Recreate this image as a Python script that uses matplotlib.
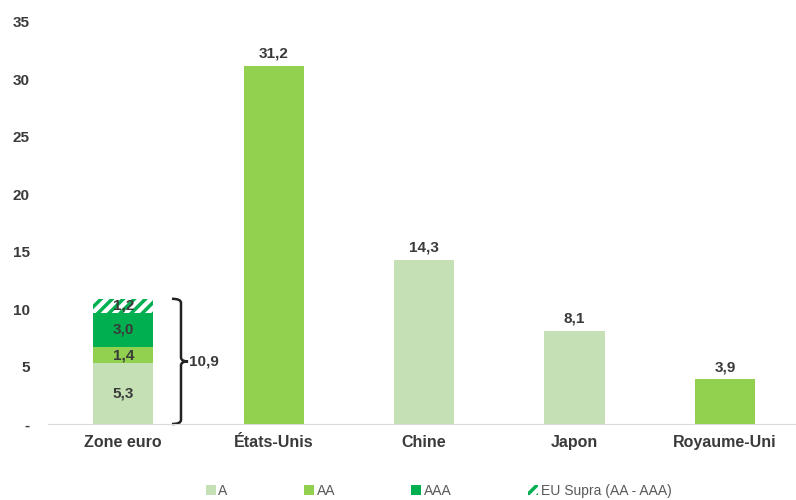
import matplotlib.pyplot as plt
from matplotlib.patches import Patch, PathPatch
from matplotlib.path import Path

plt.rcParams['font.family'] = ['Liberation Sans', 'DejaVu Sans']
plt.rcParams['hatch.linewidth'] = 2.5

categories = ['Zone euro', 'États-Unis', 'Chine', 'Japon', 'Royaume-Uni']
rating_a = [5.3, 0, 14.3, 8.1, 0]
rating_aa = [1.4, 31.2, 0, 0, 3.9]
rating_aaa = [3.0, 0, 0, 0, 0]
eu_supra = [1.2, 0, 0, 0, 0]
euro_total = 10.9
yticks = [0, 5, 10, 15, 20, 25, 30, 35]
ytick_labels = ['-', '5', '10', '15', '20', '25', '30', '35']

c_a = '#c5e0b4'
c_aa = '#92d050'
c_aaa = '#00b050'
txt = '#3a3a3a'

fig = plt.figure(figsize=(7.96, 5.0), dpi=100)
ax = fig.add_axes([0.0603, 0.152, 0.945, 0.804])

x = list(range(len(categories)))
w = 0.4
b1 = [a for a in rating_a]
b2 = [a + b for a, b in zip(rating_a, rating_aa)]
b3 = [a + b + c for a, b, c in zip(rating_a, rating_aa, rating_aaa)]

ax.bar(x, rating_a, w, color=c_a, linewidth=0)
ax.bar(x, rating_aa, w, bottom=b1, color=c_aa, linewidth=0)
ax.bar(x, rating_aaa, w, bottom=b2, color=c_aaa, linewidth=0)
ax.bar(x, eu_supra, w, bottom=b3, facecolor='white', edgecolor=c_aaa,
       hatch='///', linewidth=0)

# labels inside the euro-area stack
lab = dict(ha='center', va='center', fontsize=11, fontweight='bold', color=txt)
ax.text(0, rating_a[0] / 2, '5,3', **lab)
ax.text(0, b1[0] + rating_aa[0] / 2, '1,4', **lab)
ax.text(0, b2[0] + rating_aaa[0] / 2, '3,0', **lab)
ax.text(0, b3[0] + eu_supra[0] / 2, '1,2', **lab)

# totals above single bars
for i in range(1, len(categories)):
    tot = rating_a[i] + rating_aa[i]
    ax.text(i, tot + 0.45, f'{tot:.1f}'.replace('.', ','), ha='center',
            va='bottom', fontsize=11, fontweight='bold', color=txt)

# curly brace spanning the euro-area total
xl, xm, xt = 0.324, 0.384, 0.431
ym = euro_total / 2
r = 0.35
verts = [(xl, euro_total), (xm, euro_total), (xm, euro_total - r),
         (xm, ym + r), (xm, ym), (xt, ym),
         (xm, ym), (xm, ym - r),
         (xm, r), (xm, 0), (xl, 0)]
codes = [Path.MOVETO, Path.CURVE3, Path.CURVE3,
         Path.LINETO, Path.CURVE3, Path.CURVE3,
         Path.CURVE3, Path.CURVE3,
         Path.LINETO, Path.CURVE3, Path.CURVE3]
ax.add_patch(PathPatch(Path(verts, codes), fill=False, edgecolor='#222222',
                       linewidth=1.8, clip_on=False))
ax.text(xt + 0.008, ym, f'{euro_total:.1f}'.replace('.', ','), ha='left',
        va='center', fontsize=11, fontweight='bold', color=txt)

ax.set_xlim(-0.5, 4.5)
ax.set_ylim(0, 35)
ax.set_xticks(x)
ax.set_xticklabels(categories, fontsize=11.5, fontweight='bold', color=txt)
ax.set_yticks(yticks)
ax.set_yticklabels(ytick_labels, fontsize=11, fontweight='bold', color=txt)
ax.tick_params(length=0)
ax.tick_params(axis='y', pad=13)
ax.tick_params(axis='x', pad=8)
for s in ['top', 'right', 'left']:
    ax.spines[s].set_visible(False)
ax.spines['bottom'].set_color('#d9d9d9')

handles = [Patch(facecolor=c_a, label='A'),
           Patch(facecolor=c_aa, label='AA'),
           Patch(facecolor=c_aaa, label='AAA'),
           Patch(facecolor='white', edgecolor=c_aaa, hatch='///',
                 linewidth=0, label='EU Supra (AA - AAA)')]
leg = fig.legend(handles=handles, loc='center', bbox_to_anchor=(0.551, 0.018),
                 ncol=4, frameon=False, fontsize=10, handlelength=0.7,
                 handleheight=0.7, handletextpad=0.2, columnspacing=5.5)
for t in leg.get_texts():
    t.set_color('#595959')

fig.savefig('out.png', dpi=100)
